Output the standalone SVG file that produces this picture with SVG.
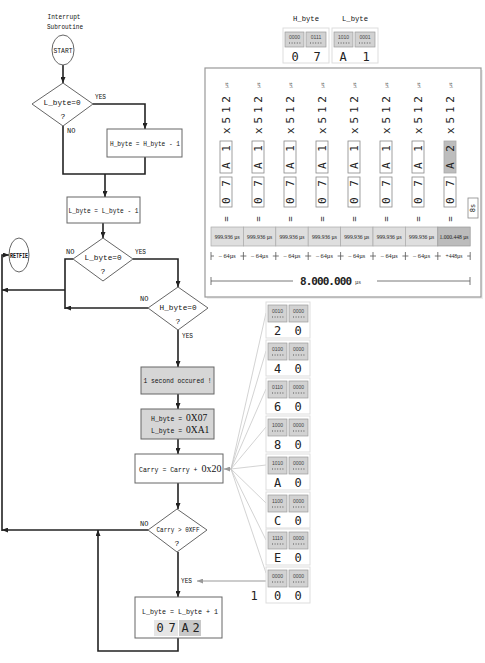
<svg xmlns="http://www.w3.org/2000/svg" width="485" height="663" viewBox="0 0 485 663">
<style>
.t{font-family:"Liberation Mono",monospace;font-size:8px;fill:#111;text-anchor:middle}
.s{font-family:"Liberation Mono",monospace;font-size:6.5px;fill:#111}
.lb{font-family:"Liberation Mono",monospace;font-size:7px;fill:#111}
.ln{fill:none;stroke:#222;stroke-width:1.6}
.bx{fill:#fff;stroke:#666;stroke-width:1}
.gbx{fill:#d6d6d6;stroke:#666;stroke-width:1}
.fan{fill:none;stroke:#c8c8c8;stroke-width:0.8}
.dg{font-family:"DejaVu Sans Mono",monospace;font-size:12px;fill:#222;text-anchor:middle}
.bit{font-family:"Liberation Sans",sans-serif;font-size:5px;fill:#444;text-anchor:middle}
.cell{fill:#d2d2d2;stroke:#9a9a9a;stroke-width:0.7}
.grp{fill:#fff;stroke:#ddd;stroke-width:1}
.dot{stroke:#555;stroke-width:1;stroke-dasharray:1 1.6}
.rot{font-family:"DejaVu Sans Mono",monospace;fill:#222;text-anchor:middle;dominant-baseline:central}
.hb{fill:#fff;stroke:#888;stroke-width:0.8}
.tc{fill:#dedede;stroke:#aaa;stroke-width:0.7}
.tct{font-family:"Liberation Serif",serif;font-size:5.5px;fill:#222;text-anchor:middle}
.tk{stroke:#555;stroke-width:0.8;fill:none}
</style>
<defs>
<marker id="ah" markerWidth="6" markerHeight="5" refX="6" refY="2.5" orient="auto" markerUnits="userSpaceOnUse"><path d="M0,0 L6,2.5 L0,5 z" fill="#222"/></marker>
<marker id="ag" markerWidth="6" markerHeight="5" refX="6" refY="2.5" orient="auto" markerUnits="userSpaceOnUse"><path d="M0,0 L6,2.5 L0,5 z" fill="#999"/></marker>
</defs>
<rect width="485" height="663" fill="#fff"/>

<g id="connectors">
<line class="ln" x1="63" y1="65" x2="63" y2="83" marker-end="url(#ah)"/>
<polyline class="ln" points="93,104 145,104 145,129" marker-end="url(#ah)"/>
<polyline class="ln" points="63,126 63,174 145,174 145,157"/>
<line class="ln" x1="105" y1="174" x2="105" y2="197" marker-end="url(#ah)"/>
<line class="ln" x1="103" y1="223" x2="103" y2="238" marker-end="url(#ah)"/>
<polyline class="ln" points="73,259 65,259 65,309"/>
<line class="ln" x1="65" y1="290" x2="2" y2="290" marker-end="url(#ah)"/>
<line class="ln" x1="148" y1="308" x2="65" y2="308" marker-end="url(#ah)"/>
<polyline class="ln" points="133,259 178,259 178,287" marker-end="url(#ah)"/>
<line class="ln" x1="178" y1="330" x2="178" y2="367" marker-end="url(#ah)"/>
<line class="ln" x1="178" y1="394" x2="178" y2="409" marker-end="url(#ah)"/>
<line class="ln" x1="178" y1="439" x2="178" y2="454" marker-end="url(#ah)"/>
<line class="ln" x1="178" y1="483" x2="178" y2="509" marker-end="url(#ah)"/>
<line class="ln" x1="148" y1="530" x2="2" y2="530" marker-end="url(#ah)"/>
<polyline class="ln" points="2,531 2,255 9,255" marker-end="url(#ah)"/>
<line class="ln" x1="178" y1="552" x2="178" y2="597" marker-end="url(#ah)"/>
<polyline class="ln" points="178,638 178,651 98,651 98,530" marker-end="url(#ah)"/>
<line x1="266" y1="581" x2="197" y2="581" stroke="#999" stroke-width="1" marker-end="url(#ag)"/>
<line x1="232" y1="469" x2="224" y2="469" stroke="#999" stroke-width="1" marker-end="url(#ag)"/>
<line class="fan" x1="231" y1="469" x2="266" y2="313"/>
<line class="fan" x1="231" y1="469" x2="266" y2="351"/>
<line class="fan" x1="231" y1="469" x2="266" y2="389"/>
<line class="fan" x1="231" y1="469" x2="266" y2="427"/>
<line class="fan" x1="231" y1="469" x2="266" y2="465"/>
<line class="fan" x1="231" y1="469" x2="266" y2="503"/>
<line class="fan" x1="231" y1="469" x2="266" y2="540"/>
<line class="fan" x1="231" y1="469" x2="266" y2="573"/>
</g>

<g id="title">
<text class="t" x="64" y="19" font-size="7" textLength="33" lengthAdjust="spacingAndGlyphs">Interrupt</text>
<text class="t" x="65" y="29" font-size="7" textLength="36" lengthAdjust="spacingAndGlyphs">Subroutine</text>
</g>
<g id="start">
<ellipse cx="63" cy="50" rx="11" ry="15" class="bx"/>
<text class="t" x="63" y="52.5" font-size="6.5" textLength="19" lengthAdjust="spacingAndGlyphs">START</text>
</g>
<g id="dec1">
<polygon class="bx" points="63,83 93,104 63,126 32,104"/>
<text class="t" x="62" y="105" font-size="9" textLength="37" lengthAdjust="spacingAndGlyphs">L_byte=0</text>
<text class="t" x="63" y="119">?</text>
<text class="lb" x="95" y="99" textLength="11" lengthAdjust="spacingAndGlyphs">YES</text>
<text class="lb" x="67" y="133">NO</text>
</g>
<g id="hdec">
<rect class="bx" x="107" y="129" width="75" height="28"/>
<text class="t" x="145" y="146" textLength="70" lengthAdjust="spacingAndGlyphs">H_byte = H_byte - 1</text>
</g>
<g id="ldec">
<rect class="bx" x="67" y="197" width="73" height="26"/>
<text class="t" x="103.5" y="213" textLength="70" lengthAdjust="spacingAndGlyphs">L_byte = L_byte - 1</text>
</g>
<g id="retfie">
<ellipse cx="19" cy="255" rx="10" ry="17" class="bx"/>
<text class="t" x="19" y="257.5" font-size="6" font-weight="bold" textLength="18" lengthAdjust="spacingAndGlyphs">RETFIE</text>
</g>
<g id="dec2">
<polygon class="bx" points="103,238 133,259 103,281 73,259"/>
<text class="t" x="103" y="260" font-size="9" textLength="37" lengthAdjust="spacingAndGlyphs">L_byte=0</text>
<text class="t" x="103" y="274">?</text>
<text class="lb" x="66" y="254">NO</text>
<text class="lb" x="135" y="254" textLength="11" lengthAdjust="spacingAndGlyphs">YES</text>
</g>
<g id="dec3">
<polygon class="bx" points="178,287 208,308 178,330 148,308"/>
<text class="t" x="178" y="310" font-size="9" textLength="37" lengthAdjust="spacingAndGlyphs">H_byte=0</text>
<text class="t" x="178" y="324">?</text>
<text class="lb" x="140" y="301">NO</text>
<text class="lb" x="182" y="338" textLength="11" lengthAdjust="spacingAndGlyphs">YES</text>
</g>
<g id="sec">
<rect class="gbx" x="141" y="367" width="73" height="27"/>
<text class="t" x="177.5" y="383" font-size="7.5" textLength="68" lengthAdjust="spacingAndGlyphs">1 second occured !</text>
</g>
<g id="reload">
<rect class="gbx" x="141" y="409" width="73" height="30"/>
<text class="s" x="151" y="421">H_byte = <tspan font-family="Liberation Serif" font-size="9.5">0X07</tspan></text>
<text class="s" x="151" y="433">L_byte = <tspan font-family="Liberation Serif" font-size="9.5">0XA1</tspan></text>
</g>
<g id="carry">
<rect class="bx" x="135" y="454" width="88" height="29"/>
<text class="s" x="139" y="472">Carry = Carry + <tspan font-family="Liberation Serif" font-size="10">0x20</tspan></text>
</g>
<g id="dec4">
<polygon class="bx" points="177,509 207,530 177,552 148,530"/>
<text class="t" x="178" y="532" font-size="7" textLength="43" lengthAdjust="spacingAndGlyphs">Carry &gt; 0XFF</text>
<text class="t" x="177" y="546">?</text>
<text class="lb" x="140" y="526">NO</text>
<text class="lb" x="181" y="583" textLength="11" lengthAdjust="spacingAndGlyphs">YES</text>
</g>
<g id="linc">
<rect class="bx" x="135" y="597" width="87" height="41"/>
<text class="t" x="180" y="614" font-size="7" textLength="76" lengthAdjust="spacingAndGlyphs">L_byte = L_byte + 1</text>
<rect x="154" y="620" width="24" height="16" fill="#e6e6e6"/>
<rect x="179" y="620" width="22" height="16" fill="#c8c8c8"/>
<text class="dg" x="160" y="632">0</text>
<text class="dg" x="172" y="632">7</text>
<text class="dg" x="185" y="632">A</text>
<text class="dg" x="196" y="632">2</text>
</g>

<g id="bytes">
<text class="t" x="306" y="21" font-size="7" textLength="26" lengthAdjust="spacingAndGlyphs">H_byte</text>
<text class="t" x="355" y="21" font-size="7" textLength="26" lengthAdjust="spacingAndGlyphs">L_byte</text>
<g transform="translate(283,32)">
<rect class="grp" x="0" y="-4" width="46" height="35"/>
<rect class="cell" x="2" y="0" width="19" height="15"/>
<rect class="cell" x="23" y="0" width="20" height="15"/>
<text class="bit" x="11.5" y="7">0000</text><line class="dot" x1="6" y1="11" x2="18" y2="11"/>
<text class="bit" x="33" y="7">0111</text><line class="dot" x1="27" y1="11" x2="39" y2="11"/>
<text class="dg" x="12" y="29">0</text><text class="dg" x="34" y="29">7</text>
</g>
<g transform="translate(332,32)">
<rect class="grp" x="0" y="-4" width="46" height="35"/>
<rect class="cell" x="2" y="0" width="19" height="15"/>
<rect class="cell" x="23" y="0" width="20" height="15"/>
<text class="bit" x="11.5" y="7">1010</text><line class="dot" x1="6" y1="11" x2="18" y2="11"/>
<text class="bit" x="33" y="7">0001</text><line class="dot" x1="27" y1="11" x2="39" y2="11"/>
<text class="dg" x="11" y="29">A</text><text class="dg" x="34" y="29">1</text>
</g>
</g>

<g id="timing">
<rect x="207" y="70" width="276" height="229" fill="#eee"/>
<rect x="205" y="68" width="276" height="229" fill="#fff" stroke="#999" stroke-width="1.2"/>
<g transform="translate(226,0)">
<text class="rot" font-size="4.5" transform="translate(0,85) rotate(-90)">µs</text>
<text class="rot" font-size="11" textLength="38" lengthAdjust="spacing" transform="translate(0,115) rotate(-90)">x512</text>
<rect class="hb" x="-6" y="141" width="12" height="32"/>
<text class="rot" font-size="11" textLength="24" lengthAdjust="spacing" transform="translate(0,157) rotate(-90)">A 1</text>
<rect class="hb" x="-6" y="177" width="12" height="30"/>
<text class="rot" font-size="11" textLength="24" lengthAdjust="spacing" transform="translate(0,192) rotate(-90)">0 7</text>
<text class="rot" font-size="9" transform="translate(0,219) rotate(-90)">=</text>
</g>
<g transform="translate(258,0)">
<text class="rot" font-size="4.5" transform="translate(0,85) rotate(-90)">µs</text>
<text class="rot" font-size="11" textLength="38" lengthAdjust="spacing" transform="translate(0,115) rotate(-90)">x512</text>
<rect class="hb" x="-6" y="141" width="12" height="32"/>
<text class="rot" font-size="11" textLength="24" lengthAdjust="spacing" transform="translate(0,157) rotate(-90)">A 1</text>
<rect class="hb" x="-6" y="177" width="12" height="30"/>
<text class="rot" font-size="11" textLength="24" lengthAdjust="spacing" transform="translate(0,192) rotate(-90)">0 7</text>
<text class="rot" font-size="9" transform="translate(0,219) rotate(-90)">=</text>
</g>
<g transform="translate(290,0)">
<text class="rot" font-size="4.5" transform="translate(0,85) rotate(-90)">µs</text>
<text class="rot" font-size="11" textLength="38" lengthAdjust="spacing" transform="translate(0,115) rotate(-90)">x512</text>
<rect class="hb" x="-6" y="141" width="12" height="32"/>
<text class="rot" font-size="11" textLength="24" lengthAdjust="spacing" transform="translate(0,157) rotate(-90)">A 1</text>
<rect class="hb" x="-6" y="177" width="12" height="30"/>
<text class="rot" font-size="11" textLength="24" lengthAdjust="spacing" transform="translate(0,192) rotate(-90)">0 7</text>
<text class="rot" font-size="9" transform="translate(0,219) rotate(-90)">=</text>
</g>
<g transform="translate(322,0)">
<text class="rot" font-size="4.5" transform="translate(0,85) rotate(-90)">µs</text>
<text class="rot" font-size="11" textLength="38" lengthAdjust="spacing" transform="translate(0,115) rotate(-90)">x512</text>
<rect class="hb" x="-6" y="141" width="12" height="32"/>
<text class="rot" font-size="11" textLength="24" lengthAdjust="spacing" transform="translate(0,157) rotate(-90)">A 1</text>
<rect class="hb" x="-6" y="177" width="12" height="30"/>
<text class="rot" font-size="11" textLength="24" lengthAdjust="spacing" transform="translate(0,192) rotate(-90)">0 7</text>
<text class="rot" font-size="9" transform="translate(0,219) rotate(-90)">=</text>
</g>
<g transform="translate(354,0)">
<text class="rot" font-size="4.5" transform="translate(0,85) rotate(-90)">µs</text>
<text class="rot" font-size="11" textLength="38" lengthAdjust="spacing" transform="translate(0,115) rotate(-90)">x512</text>
<rect class="hb" x="-6" y="141" width="12" height="32"/>
<text class="rot" font-size="11" textLength="24" lengthAdjust="spacing" transform="translate(0,157) rotate(-90)">A 1</text>
<rect class="hb" x="-6" y="177" width="12" height="30"/>
<text class="rot" font-size="11" textLength="24" lengthAdjust="spacing" transform="translate(0,192) rotate(-90)">0 7</text>
<text class="rot" font-size="9" transform="translate(0,219) rotate(-90)">=</text>
</g>
<g transform="translate(386,0)">
<text class="rot" font-size="4.5" transform="translate(0,85) rotate(-90)">µs</text>
<text class="rot" font-size="11" textLength="38" lengthAdjust="spacing" transform="translate(0,115) rotate(-90)">x512</text>
<rect class="hb" x="-6" y="141" width="12" height="32"/>
<text class="rot" font-size="11" textLength="24" lengthAdjust="spacing" transform="translate(0,157) rotate(-90)">A 1</text>
<rect class="hb" x="-6" y="177" width="12" height="30"/>
<text class="rot" font-size="11" textLength="24" lengthAdjust="spacing" transform="translate(0,192) rotate(-90)">0 7</text>
<text class="rot" font-size="9" transform="translate(0,219) rotate(-90)">=</text>
</g>
<g transform="translate(418,0)">
<text class="rot" font-size="4.5" transform="translate(0,85) rotate(-90)">µs</text>
<text class="rot" font-size="11" textLength="38" lengthAdjust="spacing" transform="translate(0,115) rotate(-90)">x512</text>
<rect class="hb" x="-6" y="141" width="12" height="32"/>
<text class="rot" font-size="11" textLength="24" lengthAdjust="spacing" transform="translate(0,157) rotate(-90)">A 1</text>
<rect class="hb" x="-6" y="177" width="12" height="30"/>
<text class="rot" font-size="11" textLength="24" lengthAdjust="spacing" transform="translate(0,192) rotate(-90)">0 7</text>
<text class="rot" font-size="9" transform="translate(0,219) rotate(-90)">=</text>
</g>
<g transform="translate(450,0)">
<text class="rot" font-size="4.5" transform="translate(0,85) rotate(-90)">µs</text>
<text class="rot" font-size="11" textLength="38" lengthAdjust="spacing" transform="translate(0,115) rotate(-90)">x512</text>
<rect x="-6" y="141" width="12" height="32" fill="#bdbdbd" stroke="#aaa" stroke-width="0.8"/>
<text class="rot" font-size="11" textLength="24" lengthAdjust="spacing" transform="translate(0,157) rotate(-90)">A 2</text>
<rect class="hb" x="-6" y="177" width="12" height="30"/>
<text class="rot" font-size="11" textLength="24" lengthAdjust="spacing" transform="translate(0,192) rotate(-90)">0 7</text>
<text class="rot" font-size="9" transform="translate(0,219) rotate(-90)">=</text>
</g>
<rect class="hb" x="468" y="198" width="10" height="20"/>
<text class="rot" font-size="7" transform="translate(473,208) rotate(-90)">8s</text>

<rect class="tc" x="211" y="227" width="32.4" height="19"/>
<rect class="tc" x="243.4" y="227" width="32.4" height="19"/>
<rect class="tc" x="275.8" y="227" width="32.4" height="19"/>
<rect class="tc" x="308.2" y="227" width="32.4" height="19"/>
<rect class="tc" x="340.6" y="227" width="32.4" height="19"/>
<rect class="tc" x="373" y="227" width="32.4" height="19"/>
<rect class="tc" x="405.4" y="227" width="32.4" height="19"/>
<rect x="437.8" y="227" width="32.4" height="19" fill="#bcbcbc" stroke="#999" stroke-width="0.7"/>
<text class="tct" x="227.2" y="238.5" textLength="25" lengthAdjust="spacingAndGlyphs">999.936 µs</text>
<text class="tct" x="259.6" y="238.5" textLength="25" lengthAdjust="spacingAndGlyphs">999.936 µs</text>
<text class="tct" x="292" y="238.5" textLength="25" lengthAdjust="spacingAndGlyphs">999.936 µs</text>
<text class="tct" x="324.4" y="238.5" textLength="25" lengthAdjust="spacingAndGlyphs">999.936 µs</text>
<text class="tct" x="356.8" y="238.5" textLength="25" lengthAdjust="spacingAndGlyphs">999.936 µs</text>
<text class="tct" x="389.2" y="238.5" textLength="25" lengthAdjust="spacingAndGlyphs">999.936 µs</text>
<text class="tct" x="421.6" y="238.5" textLength="25" lengthAdjust="spacingAndGlyphs">999.936 µs</text>
<text class="tct" x="454" y="238.5" textLength="29" lengthAdjust="spacingAndGlyphs">1.000.448 µs</text>

<path class="tk" d="M211,252 V260 M211,256 H214 M243.4,252 V260 M240.4,256 H246.4 M275.8,252 V260 M272.8,256 H278.8 M308.2,252 V260 M305.2,256 H311.2 M340.6,252 V260 M337.6,256 H343.6 M373,252 V260 M370,256 H376 M405.4,252 V260 M402.4,256 H408.4 M437.8,252 V260 M434.8,256 H440.8 M470.2,252 V260 M467.2,256 H470.2"/>
<text class="tct" x="227.2" y="258" font-size="6" textLength="17" lengthAdjust="spacingAndGlyphs">– 64µs</text>
<text class="tct" x="259.6" y="258" font-size="6" textLength="17" lengthAdjust="spacingAndGlyphs">– 64µs</text>
<text class="tct" x="292" y="258" font-size="6" textLength="17" lengthAdjust="spacingAndGlyphs">– 64µs</text>
<text class="tct" x="324.4" y="258" font-size="6" textLength="17" lengthAdjust="spacingAndGlyphs">– 64µs</text>
<text class="tct" x="356.8" y="258" font-size="6" textLength="17" lengthAdjust="spacingAndGlyphs">– 64µs</text>
<text class="tct" x="389.2" y="258" font-size="6" textLength="17" lengthAdjust="spacingAndGlyphs">– 64µs</text>
<text class="tct" x="421.6" y="258" font-size="6" textLength="17" lengthAdjust="spacingAndGlyphs">– 64µs</text>
<text class="tct" x="454" y="258" font-size="6" textLength="17" lengthAdjust="spacingAndGlyphs">+448µs</text>

<path class="tk" d="M211,277 V285 M211,281 H293 M377,281 H470 M470,277 V285"/>
<text x="326" y="285" font-family="DejaVu Sans Mono,monospace" font-size="11" font-weight="bold" fill="#222" text-anchor="middle" textLength="52" lengthAdjust="spacing">8.000.000</text>
<text x="355" y="284" font-family="Liberation Serif,serif" font-size="6" fill="#333">µs</text>
</g>

<g id="carrytable">
<g transform="translate(266,305)">
<rect class="grp" x="0" y="-3" width="44" height="36"/>
<rect class="cell" x="2" y="0" width="19" height="17"/><rect class="cell" x="23" y="0" width="19" height="17"/>
<text class="bit" x="11.5" y="8">0010</text><line class="dot" x1="6" y1="12" x2="18" y2="12"/>
<text class="bit" x="32.5" y="8">0000</text><line class="dot" x1="27" y1="12" x2="39" y2="12"/>
<text class="dg" x="11.5" y="30">2</text><text class="dg" x="32" y="30">0</text>
</g>
<g transform="translate(266,343)">
<rect class="grp" x="0" y="-3" width="44" height="36"/>
<rect class="cell" x="2" y="0" width="19" height="17"/><rect class="cell" x="23" y="0" width="19" height="17"/>
<text class="bit" x="11.5" y="8">0100</text><line class="dot" x1="6" y1="12" x2="18" y2="12"/>
<text class="bit" x="32.5" y="8">0000</text><line class="dot" x1="27" y1="12" x2="39" y2="12"/>
<text class="dg" x="11.5" y="30">4</text><text class="dg" x="32" y="30">0</text>
</g>
<g transform="translate(266,381)">
<rect class="grp" x="0" y="-3" width="44" height="36"/>
<rect class="cell" x="2" y="0" width="19" height="17"/><rect class="cell" x="23" y="0" width="19" height="17"/>
<text class="bit" x="11.5" y="8">0110</text><line class="dot" x1="6" y1="12" x2="18" y2="12"/>
<text class="bit" x="32.5" y="8">0000</text><line class="dot" x1="27" y1="12" x2="39" y2="12"/>
<text class="dg" x="11.5" y="30">6</text><text class="dg" x="32" y="30">0</text>
</g>
<g transform="translate(266,419)">
<rect class="grp" x="0" y="-3" width="44" height="36"/>
<rect class="cell" x="2" y="0" width="19" height="17"/><rect class="cell" x="23" y="0" width="19" height="17"/>
<text class="bit" x="11.5" y="8">1000</text><line class="dot" x1="6" y1="12" x2="18" y2="12"/>
<text class="bit" x="32.5" y="8">0000</text><line class="dot" x1="27" y1="12" x2="39" y2="12"/>
<text class="dg" x="11.5" y="30">8</text><text class="dg" x="32" y="30">0</text>
</g>
<g transform="translate(266,457)">
<rect class="grp" x="0" y="-3" width="44" height="36"/>
<rect class="cell" x="2" y="0" width="19" height="17"/><rect class="cell" x="23" y="0" width="19" height="17"/>
<text class="bit" x="11.5" y="8">1010</text><line class="dot" x1="6" y1="12" x2="18" y2="12"/>
<text class="bit" x="32.5" y="8">0000</text><line class="dot" x1="27" y1="12" x2="39" y2="12"/>
<text class="dg" x="11.5" y="30">A</text><text class="dg" x="32" y="30">0</text>
</g>
<g transform="translate(266,495)">
<rect class="grp" x="0" y="-3" width="44" height="36"/>
<rect class="cell" x="2" y="0" width="19" height="17"/><rect class="cell" x="23" y="0" width="19" height="17"/>
<text class="bit" x="11.5" y="8">1100</text><line class="dot" x1="6" y1="12" x2="18" y2="12"/>
<text class="bit" x="32.5" y="8">0000</text><line class="dot" x1="27" y1="12" x2="39" y2="12"/>
<text class="dg" x="11.5" y="30">C</text><text class="dg" x="32" y="30">0</text>
</g>
<g transform="translate(266,532)">
<rect class="grp" x="0" y="-3" width="44" height="36"/>
<rect class="cell" x="2" y="0" width="19" height="17"/><rect class="cell" x="23" y="0" width="19" height="17"/>
<text class="bit" x="11.5" y="8">1110</text><line class="dot" x1="6" y1="12" x2="18" y2="12"/>
<text class="bit" x="32.5" y="8">0000</text><line class="dot" x1="27" y1="12" x2="39" y2="12"/>
<text class="dg" x="11.5" y="30">E</text><text class="dg" x="32" y="30">0</text>
</g>
<g transform="translate(266,570)">
<rect class="grp" x="0" y="-3" width="44" height="36"/>
<rect class="cell" x="2" y="0" width="19" height="17"/><rect class="cell" x="23" y="0" width="19" height="17"/>
<text class="bit" x="11.5" y="8">0000</text><line class="dot" x1="6" y1="12" x2="18" y2="12"/>
<text class="bit" x="32.5" y="8">0000</text><line class="dot" x1="27" y1="12" x2="39" y2="12"/>
<text class="dg" x="11.5" y="30">0</text><text class="dg" x="32" y="30">0</text>
</g>
<text class="dg" x="254" y="600">1</text>
</g>
</svg>
